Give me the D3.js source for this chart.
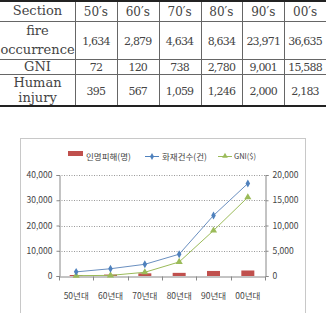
<!DOCTYPE html>
<html>
<head>
<meta charset="utf-8">
<script src="https://cdn.jsdelivr.net/npm/d3@7"></script>
<style>
  body { margin: 0; background: #fff; }
  svg { display: block; }
  .tbl text { font-family: "DejaVu Serif", "Liberation Serif", serif; fill: #444; }
  .chart text { font-family: "Noto Sans CJK KR", "Noto Sans", sans-serif; fill: #444; }
</style>
</head>
<body>
<svg id="fig"></svg>
<script>
const width = 326;
const height = 313;

// table data
const decades = ["50′s", "60′s", "70′s", "80′s", "90′s", "00′s"];
const rowLabels = [["Section"], ["fire", "occurrence"], ["GNI"], ["Human", "injury"]];
const fire = [1634, 2879, 4634, 8634, 23971, 36635];
const gni = [72, 120, 738, 2780, 9001, 15588];
const injury = [395, 567, 1059, 1246, 2000, 2183];

// chart data
const xLabels = ["50년대", "60년대", "70년대", "80년대", "90년대", "00년대"];
const leftTicks = [0, 10000, 20000, 30000, 40000];
const rightTicks = [0, 5000, 10000, 15000, 20000];
const legendNames = ["인명피해(명)", "화재건수(건)", "GNI($)"];

const colors = { bar: "#C0504D", fire: "#4F81BD", gni: "#9BBB59" };
const fmt = d3.format(",");

const svg = d3.select("#fig").attr("width", width).attr("height", height);

// ---------- table ----------
const rowH = [21, 38, 15, 32];
const rowY = [0];
rowH.forEach((h, i) => rowY.push(rowY[i] + h));
const labelW = 75;
const col = d3.scaleBand().domain(d3.range(6)).range([labelW, width]);

const tbl = svg.append("g").attr("class", "tbl");

// inner horizontal lines
tbl.selectAll("line.h").data(rowY.slice(1, -1)).enter().append("line")
  .attr("x1", 0).attr("x2", width).attr("y1", d => d + 0.5).attr("y2", d => d + 0.5)
  .attr("stroke", "#666").attr("stroke-width", 1);
// vertical lines
tbl.selectAll("line.v").data([labelW].concat(d3.range(1, 6).map(i => col(i)))).enter().append("line")
  .attr("x1", d => Math.round(d) + 0.5).attr("x2", d => Math.round(d) + 0.5)
  .attr("y1", 0).attr("y2", rowY[4])
  .attr("stroke", "#666").attr("stroke-width", 1);
// top and bottom rules
tbl.append("line").attr("x1", 0).attr("x2", width).attr("y1", 1).attr("y2", 1)
  .attr("stroke", "#222").attr("stroke-width", 2);
tbl.append("line").attr("x1", 0).attr("x2", width).attr("y1", rowY[4]).attr("y2", rowY[4])
  .attr("stroke", "#222").attr("stroke-width", 2);

// row labels
rowLabels.forEach((lines, r) => {
  const cy = (rowY[r] + rowY[r + 1]) / 2;
  const lh = r === 1 ? 19 : 15;
  lines.forEach((t, k) => {
    tbl.append("text")
      .attr("x", labelW / 2)
      .attr("y", cy + (k - (lines.length - 1) / 2) * lh)
      .attr("dy", "0.35em")
      .attr("text-anchor", "middle")
      .style("font-size", "13px")
      .text(t);
  });
});

// header decades
tbl.selectAll("text.hd").data(decades).enter().append("text")
  .attr("x", (d, i) => col(i) + col.bandwidth() / 2)
  .attr("y", (rowY[0] + rowY[1]) / 2 + 1)
  .attr("dy", "0.35em")
  .attr("text-anchor", "middle")
  .style("font-size", "12px")
  .text(d => d);

// numeric rows
[fire, gni, injury].forEach((arr, r) => {
  const cy = (rowY[r + 1] + rowY[r + 2]) / 2;
  tbl.selectAll(null).data(arr).enter().append("text")
    .attr("x", (d, i) => col(i) + col.bandwidth() / 2)
    .attr("y", cy + 1)
    .attr("dy", "0.35em")
    .attr("text-anchor", "middle")
    .style("font-size", "11px")
    .style("letter-spacing", "-0.8px")
    .text(d => fmt(d));
});

// ---------- chart ----------
svg.append("rect")
  .attr("x", 20.5).attr("y", 138.5).attr("width", 285).attr("height", 190)
  .attr("fill", "none").attr("stroke", "#c8c8c8");

const plot = { left: 59, right: 265, top: 175, bottom: 276 };
const x = d3.scaleBand().domain(xLabels).range([plot.left, plot.right]);
const yL = d3.scaleLinear().domain([0, 40000]).range([plot.bottom, plot.top]);
const yR = d3.scaleLinear().domain([0, 20000]).range([plot.bottom, plot.top]);

const chart = svg.append("g").attr("class", "chart");

// gridlines
chart.selectAll("line.grid").data(leftTicks.slice(1)).enter().append("line")
  .attr("x1", plot.left).attr("x2", plot.right)
  .attr("y1", d => Math.round(yL(d)) + 0.5).attr("y2", d => Math.round(yL(d)) + 0.5)
  .attr("stroke", "#999").attr("stroke-dasharray", "1,1.5");

// left axis
const axL = chart.append("g").attr("transform", `translate(${plot.left + 0.5},0)`)
  .call(d3.axisLeft(yL).tickValues(leftTicks).tickSize(3).tickPadding(4).tickFormat(fmt));
// right axis
const axR = chart.append("g").attr("transform", `translate(${plot.right + 0.5},0)`)
  .call(d3.axisRight(yR).tickValues(rightTicks).tickSize(3).tickPadding(4).tickFormat(fmt));
// bottom axis
const axB = chart.append("g").attr("transform", `translate(0,${plot.bottom + 0.5})`)
  .call(d3.axisBottom(x).tickSize(0).tickPadding(16));
axB.selectAll(".bx").data(d3.range(7)).enter().append("line")
  .attr("x1", i => Math.round(plot.left + i * x.step()) + 0.5)
  .attr("x2", i => Math.round(plot.left + i * x.step()) + 0.5)
  .attr("y1", 0).attr("y2", 4).attr("stroke", "#888");

[axL, axR, axB].forEach(a => {
  a.select(".domain").attr("stroke", "#888");
  a.selectAll(".tick line").attr("stroke", "#888");
  a.selectAll("text").style("font-size", "8.5px");
});

// bars: human injury on left axis
chart.selectAll("rect.bar").data(injury).enter().append("rect")
  .attr("x", (d, i) => x(xLabels[i]) + x.bandwidth() / 2 - 6.5)
  .attr("width", 13)
  .attr("y", d => yL(d))
  .attr("height", d => plot.bottom - yL(d))
  .attr("fill", colors.bar);

// GNI line on right axis
const lineR = d3.line().x((d, i) => x(xLabels[i]) + x.bandwidth() / 2).y(d => yR(d));
chart.append("path").datum(gni).attr("d", lineR)
  .attr("fill", "none").attr("stroke", colors.gni).attr("stroke-width", 1);
chart.selectAll("path.tri").data(gni).enter().append("path")
  .attr("d", d3.symbol(d3.symbolTriangle, 22))
  .attr("transform", (d, i) => `translate(${x(xLabels[i]) + x.bandwidth() / 2},${yR(d)})`)
  .attr("fill", colors.gni);

// fire line on left axis
const lineL = d3.line().x((d, i) => x(xLabels[i]) + x.bandwidth() / 2).y(d => yL(d));
chart.append("path").datum(fire).attr("d", lineL)
  .attr("fill", "none").attr("stroke", "#6a8fc0").attr("stroke-width", 1);
chart.selectAll("path.dia").data(fire).enter().append("path")
  .attr("d", d3.symbol(d3.symbolDiamond, 18))
  .attr("transform", (d, i) => `translate(${x(xLabels[i]) + x.bandwidth() / 2},${yL(d)})`)
  .attr("fill", colors.fire);

// legend
const lg = chart.append("g").style("font-size", "8.5px");
lg.append("rect").attr("x", 68).attr("y", 151).attr("width", 15).attr("height", 5).attr("fill", colors.bar);
lg.append("text").attr("x", 86).attr("y", 157).attr("dy", "0.35em").text(legendNames[0]);
lg.append("line").attr("x1", 145).attr("x2", 159).attr("y1", 156.5).attr("y2", 156.5)
  .attr("stroke", colors.fire);
lg.append("path").attr("d", d3.symbol(d3.symbolDiamond, 14))
  .attr("transform", "translate(152,156.5)").attr("fill", colors.fire);
lg.append("text").attr("x", 162).attr("y", 157).attr("dy", "0.35em").text(legendNames[1]);
lg.append("line").attr("x1", 218).attr("x2", 232).attr("y1", 156.5).attr("y2", 156.5)
  .attr("stroke", colors.gni);
lg.append("path").attr("d", d3.symbol(d3.symbolTriangle, 14))
  .attr("transform", "translate(225,156)").attr("fill", colors.gni);
lg.append("text").attr("x", 234).attr("y", 156).attr("dy", "0.35em").style("font-size", "7.5px").text(legendNames[2]);
</script>
</body>
</html>
